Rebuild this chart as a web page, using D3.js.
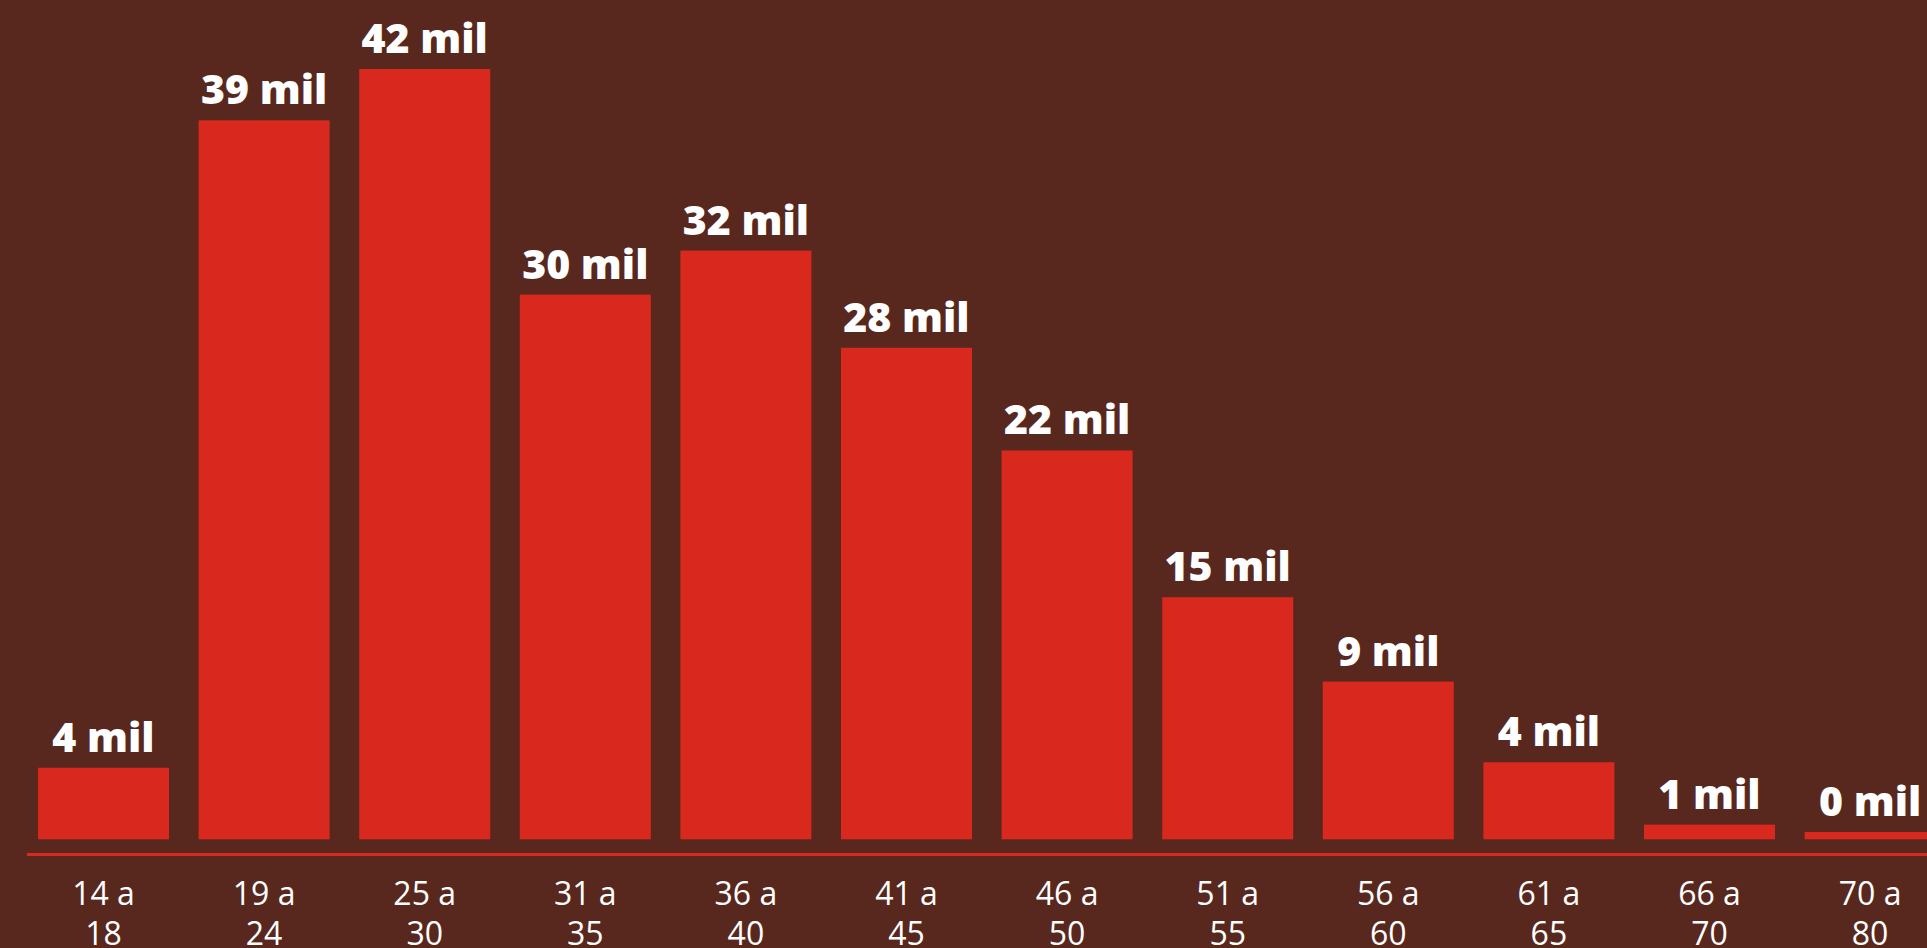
<!DOCTYPE html>
<html>
<head>
<meta charset="utf-8">
<script src="https://cdn.jsdelivr.net/npm/d3@7"></script>
<style>
  html, body { margin: 0; padding: 0; background: #58281e; overflow: hidden; }
  svg { display: block; }
</style>
</head>
<body>
<svg id="chart" width="1927" height="948"></svg>
<script>
// Age ranges (first line / second line of the axis label)
const categories = ["14 a 18","19 a 24","25 a 30","31 a 35","36 a 40","41 a 45","46 a 50","51 a 55","56 a 60","61 a 65","66 a 70","70 a 80"];
const tickTop = ["14 a","19 a","25 a","31 a","36 a","41 a","46 a","51 a","56 a","61 a","66 a","70 a"];
const tickBottom = ["18","24","30","35","40","45","50","55","60","65","70","80"];
// Bar values in thousands
const values = [3.9, 39.2, 42.0, 29.7, 32.1, 26.8, 21.2, 13.2, 8.6, 4.2, 0.8, 0.4];
// Value labels as printed above the bars
const valueLabels = ["4 mil","39 mil","42 mil","30 mil","32 mil","28 mil","22 mil","15 mil","9 mil","4 mil","1 mil","0 mil"];

const W = 1927, H = 948;
const baseline = 839.3, topY = 69;
const svg = d3.select("#chart");
svg.append("rect").attr("width", W).attr("height", H).attr("fill", "#58281e");

const step = 160.6, pin = 29.6 / step;
const x0 = 38 - step * pin / 2;
const x = d3.scaleBand()
  .domain(categories)
  .range([x0, x0 + step * 12])
  .paddingInner(pin)
  .paddingOuter(pin / 2);

const y = d3.scaleLinear().domain([0, 42]).range([baseline, topY]);

const g = svg.append("g");

g.selectAll("rect.bar")
  .data(values)
  .join("rect")
  .attr("class", "bar")
  .attr("x", (d, i) => x(categories[i]))
  .attr("y", d => y(d))
  .attr("width", x.bandwidth())
  .attr("height", d => y(0) - y(d))
  .attr("fill", "#d9281e");

g.selectAll("text.val")
  .data(values)
  .join("text")
  .attr("class", "val")
  .attr("x", (d, i) => x(categories[i]) + x.bandwidth() / 2)
  .attr("y", d => y(d) - 16)
  .attr("text-anchor", "middle")
  .attr("fill", "#ffffff")
  .attr("font-family", "'Open Sans', sans-serif")
  .attr("font-weight", 800)
  .attr("font-size", 41)
  .text((d, i) => valueLabels[i]);

// axis line
svg.append("line")
  .attr("x1", 27).attr("x2", W)
  .attr("y1", 854.6).attr("y2", 854.6)
  .attr("stroke", "#d9281e")
  .attr("stroke-width", 3);

// axis tick labels via d3 axis
const axis = d3.axisBottom(x).tickSize(0).tickPadding(0).tickFormat(() => "");
const ax = svg.append("g").attr("transform", "translate(0,856)").call(axis);
ax.select(".domain").remove();
ax.selectAll(".tick text").remove();
ax.selectAll(".tick").each(function(d, i) {
  const t = d3.select(this).append("text")
    .attr("text-anchor", "middle")
    .attr("fill", "#ffffff")
    .attr("font-family", "'Open Sans', sans-serif")
    .attr("font-weight", 400)
    .attr("font-size", 32);
  t.append("tspan").attr("x", 0).attr("y", 49).text(tickTop[i]);
  t.append("tspan").attr("x", 0).attr("y", 89).text(tickBottom[i]);
});
</script>
</body>
</html>
